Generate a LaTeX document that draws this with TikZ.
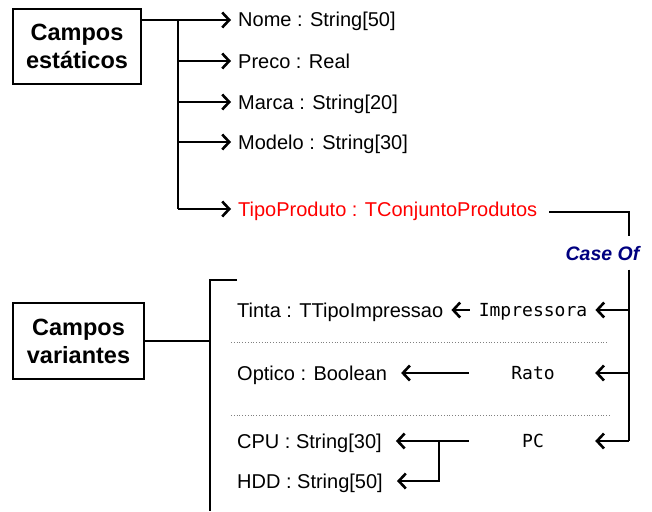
\documentclass[tikz,border=0pt]{standalone}
\usepackage{fontspec}
\setmainfont{Liberation Sans}
\newfontfamily\monofont{DejaVu Sans Mono}
\usetikzlibrary{arrows.meta}

\definecolor{azulcaso}{RGB}{0,0,128}

\begin{document}
\begin{tikzpicture}[x=1pt,y=-1pt,
    lig/.style={line width=2.6pt},
    seta/.style={lig,-{Straight Barb[length=7pt,width=15pt]}},
    caixa/.style={draw,line width=2.6pt,align=center,inner sep=0pt,
      font=\bfseries\fontsize{23.5}{28}\selectfont},
    campo/.style={anchor=west,inner sep=0pt,text height=14pt,text depth=0pt,
      font=\fontsize{20}{22}\selectfont},
    caso/.style={inner sep=0pt,minimum width=108pt,text height=13pt,text depth=0pt,
      font=\monofont\fontsize{18}{20}\selectfont},
    pontilhado/.style={gray,line width=0.8pt,dotted}]
  \useasboundingbox (0,0) rectangle (652,511);

  % campos estaticos
  \node[caixa,minimum width=128pt,minimum height=75pt] (estat) at (77,46.5) {Campos\\estáticos};
  \node[campo] (nome) at (238,20) {Nome : String[50]};
  \node[campo] (preco) at (238,61) {Preco : Real};
  \node[campo] (marca) at (238,102) {Marca : String[20]};
  \node[campo] (modelo) at (238,142) {Modelo : String[30]};
  \node[campo,red] (tipo) at (238,209) {TipoProduto : TConjuntoProdutos};
  \coordinate (tronco) at (178,20);
  \draw[lig] (estat.east |- nome.west) -- (tronco) -- (tronco |- tipo.west);
  \draw[seta] (tronco |- nome.west) -- ([xshift=-7pt]nome.west);
  \draw[seta] (tronco |- preco.west) -- ([xshift=-7pt]preco.west);
  \draw[seta] (tronco |- marca.west) -- ([xshift=-7pt]marca.west);
  \draw[seta] (tronco |- modelo.west) -- ([xshift=-7pt]modelo.west);
  \draw[seta] (tronco |- tipo.west) -- ([xshift=-7pt]tipo.west);

  % case of
  \node[inner xsep=0pt,inner ysep=9.5pt,text height=14pt,text depth=0pt,azulcaso,
    font=\bfseries\itshape\fontsize{19.5}{22}\selectfont] (caseof) at (602.5,253) {Case Of};
  \draw[lig] ([xshift=12pt,yshift=-3pt]tipo.east) -| ([xshift=26.5pt]caseof.north);
  \coordinate (desce) at ([xshift=26.5pt]caseof.south);

  % campos variantes
  \node[caixa,minimum width=131pt,minimum height=76pt] (variant) at (78.5,341) {Campos\\variantes};
  \coordinate (chave) at (210,341);
  \draw[lig] (variant.east) -- (chave);
  \draw[lig] (237,280) -| (chave |- 0,511);

  \node[caso] (impr) at (533,310) {Impressora};
  \node[caso] (rato) at (533,373) {Rato};
  \node[caso] (pc) at (533,441) {PC};
  \draw[lig] (desce) -- (desce |- pc);
  \draw[seta] (desce |- impr) -- ([xshift=8pt]impr.east);
  \draw[seta] (desce |- rato) -- ([xshift=8pt]rato.east);
  \draw[seta] (desce |- pc) -- ([xshift=8pt]pc.east);

  \node[campo] (tinta) at (237,310) {Tinta : TTipoImpressao};
  \node[campo] (optico) at (237,373) {Optico : Boolean};
  \node[campo] (cpu) at (237,441) {CPU : String[30]};
  \node[campo] (hdd) at (237,481) {HDD : String[50]};
  \draw[seta] ([xshift=-9pt]impr.west) -- ([xshift=8pt]tinta.east);
  \draw[seta] ([xshift=-10pt]rato.west) -- ([xshift=14pt]optico.east);
  \draw[seta] ([xshift=-10pt]pc.west) -- ([xshift=14pt]cpu.east);
  \coordinate (garfo) at (439,441);
  \draw[seta] (garfo) |- ([xshift=14pt]hdd.east);

  \draw[pontilhado] (231,342) -- (607,342);
  \draw[pontilhado] (231,415) -- (610,415);
\end{tikzpicture}
\end{document}
